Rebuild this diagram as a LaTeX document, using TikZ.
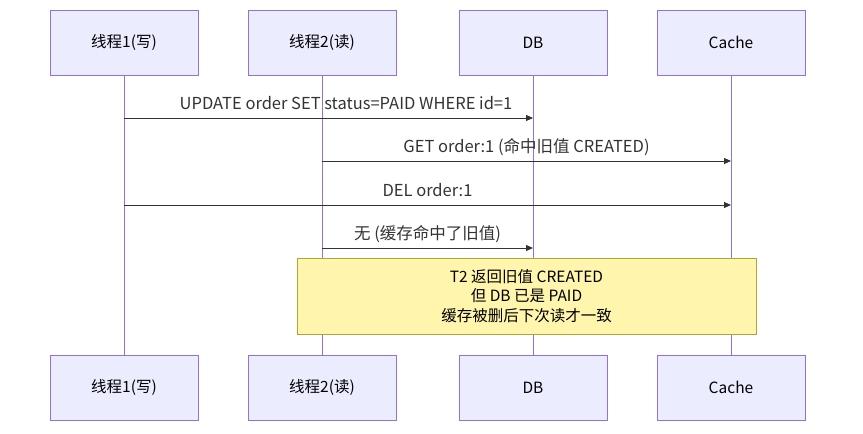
\documentclass[tikz,border=0pt]{standalone}
\usepackage{fontspec}
\setmainfont{Noto Sans CJK SC}
\usetikzlibrary{arrows.meta}
\definecolor{actfill}{HTML}{ECECFF}
\definecolor{actline}{HTML}{9370DB}
\definecolor{notefill}{HTML}{FFF5AD}
\definecolor{noteline}{HTML}{AAAA33}
\definecolor{msg}{HTML}{333333}
\begin{document}
\begin{tikzpicture}[x=1pt,y=-1pt,
  actor/.style={draw=actline,fill=actfill,line width=0.8pt,minimum width=148pt,minimum height=65pt,font=\fontsize{15.5}{18}\selectfont,text=black},
  life/.style={draw=actline,line width=1pt},
  msgline/.style={draw=msg,line width=0.8pt,-{Triangle[length=7pt,width=6pt]}},
  lbl/.style={font=\fontsize{16.5}{18}\selectfont,text=msg}]
\useasboundingbox (0,0) rectangle (863,434);
\foreach \n/\x/\t in {a/124/线程1(写),b/322/线程2(读),c/533/DB,d/731/Cache}{
  \node[actor] (\n top) at (\x,42.5) {\t};
  \node[actor] (\n bot) at (\x,387.5) {\t};
  \draw[life] (\n top.south) -- (\n bot.north);
}
\coordinate (m1s) at (124,118); \coordinate (m1e) at (533,118);
\coordinate (m2s) at (322,161); \coordinate (m2e) at (731,161);
\coordinate (m3s) at (124,205); \coordinate (m3e) at (731,205);
\coordinate (m4s) at (322,248); \coordinate (m4e) at (533,248);
\draw[msgline] (m1s) -- (m1e);
\draw[msgline] (m2s) -- (m2e);
\draw[msgline] (m3s) -- (m3e);
\draw[msgline] (m4s) -- (m4e);
\node[lbl] (l1) at (346,103) {UPDATE order SET status=PAID WHERE id=1};
\node[lbl] (l2) at (526.5,147) {GET order:1 (命中旧值 CREATED)};
\node[lbl] (l3) at (427.5,190) {DEL order:1};
\node[lbl] (l4) at (427.5,234) {无 (缓存命中了旧值)};
\node[draw=noteline,fill=notefill,line width=0.8pt,minimum width=459pt,minimum height=76pt,align=center,font=\fontsize{15.5}{19.5}\selectfont,text=black] (note) at (526.5,296) {T2 返回旧值 CREATED\\但 DB 已是 PAID\\缓存被删后下次读才一致};
\end{tikzpicture}
\end{document}
